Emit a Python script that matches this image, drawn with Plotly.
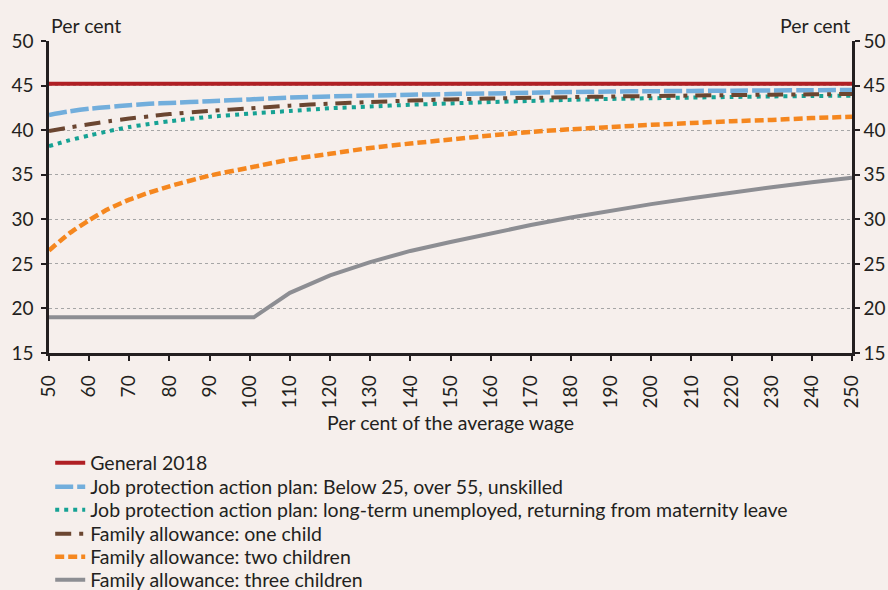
import plotly.graph_objects as go

# ---- data ----
x_wage = [50, 55, 60, 65, 70, 75, 80, 90, 100, 110, 120, 130, 140, 150,
          160, 170, 180, 190, 200, 210, 220, 230, 240, 250]

general_2018 = [45.2] * len(x_wage)

job_below25 = [41.7, 42.1, 42.4, 42.6, 42.8, 42.95, 43.05, 43.25, 43.45, 43.65,
               43.78, 43.88, 43.97, 44.05, 44.12, 44.2, 44.28, 44.33, 44.37,
               44.4, 44.43, 44.46, 44.48, 44.5]

job_longterm = [38.2, 38.85, 39.4, 39.9, 40.35, 40.7, 41.0, 41.5, 41.85, 42.15,
                42.45, 42.65, 42.85, 43.0, 43.15, 43.28, 43.4, 43.5, 43.58,
                43.65, 43.72, 43.78, 43.83, 43.87]

family_one = [39.9, 40.3, 40.65, 41.0, 41.3, 41.55, 41.8, 42.15, 42.45, 42.75,
              42.97, 43.15, 43.32, 43.45, 43.55, 43.62, 43.7, 43.77, 43.83,
              43.88, 43.93, 43.98, 44.02, 44.05]

family_two = [26.5, 28.4, 29.9, 31.2, 32.2, 33.0, 33.7, 34.9, 35.8, 36.7,
              37.35, 38.0, 38.5, 38.95, 39.4, 39.8, 40.1, 40.35, 40.6,
              40.8, 41.0, 41.15, 41.35, 41.5]

x_three = [50, 60, 70, 80, 90, 100, 101, 110, 120, 130, 140, 150, 160, 170,
           180, 190, 200, 210, 220, 230, 240, 250]
family_three = [19.0, 19.0, 19.0, 19.0, 19.0, 19.0, 19.0, 21.75, 23.7, 25.2,
                26.45, 27.45, 28.45, 29.35, 30.2, 31.0, 31.7, 32.35, 33.0,
                33.6, 34.15, 34.65]

x_ticks = list(range(50, 251, 10))
y_ticks = [15, 20, 25, 30, 35, 40, 45, 50]

BG = "#F6EFEC"
INK = "#231F20"
FONT = "Lato"
FS = 19.5

fig = go.Figure()

series = [
    ("General 2018", x_wage, general_2018, "#B01F24", "solid", 4, False),
    ("Job protection action plan: Below 25, over 55, unskilled", x_wage, job_below25, "#72AEDC", "18px,4px", 4.5, True),
    ("Job protection action plan: long-term unemployed, returning from maternity leave", x_wage, job_longterm, "#16A294", "4px,5px", 4, True),
    ("Family allowance: one child", x_wage, family_one, "#6B4631", "16px,8px,4px,8px", 4, True),
    ("Family allowance: two children", x_wage, family_two, "#F5871F", "9px,4px", 4.5, True),
    ("Family allowance: three children", x_three, family_three, "#8D8E93", "solid", 4, False),
]

# legend item centres (pixels from top of the 590 px image) -> paper coords
plot_top, plot_bottom = 41, 353
legend_centres_px = [463, 487, 510, 534, 557, 580]

legend_layout = {}
for i, (name, xs, ys, col, dash, w, smooth) in enumerate(series):
    line = dict(color=col, dash=dash, width=w)
    if smooth:
        line.update(shape="spline", smoothing=0.6)
    key = "legend" if i == 0 else f"legend{i + 1}"
    fig.add_trace(go.Scatter(x=xs, y=ys, name=name, mode="lines", line=line,
                             legend=key))
    ypaper = (plot_bottom - legend_centres_px[i]) / (plot_bottom - plot_top)
    legend_layout[key] = dict(x=0.0015, y=ypaper, xanchor="left", yanchor="middle",
                              bgcolor="rgba(0,0,0,0)", borderwidth=0,
                              font=dict(family=FONT, size=FS, color=INK),
                              itemwidth=30)

# invisible trace to activate right axis
fig.add_trace(go.Scatter(x=[50], y=[15], yaxis="y2", showlegend=False,
                         mode="markers", marker=dict(opacity=0), hoverinfo="skip"))

axis_common = dict(showline=True, linecolor=INK, linewidth=2.5, ticks="outside",
                   tickcolor=INK, tickwidth=2, ticklen=5,
                   tickfont=dict(family=FONT, size=19, color=INK))

fig.update_layout(
    width=888, height=590,
    paper_bgcolor=BG, plot_bgcolor=BG,
    margin=dict(l=49, r=36, t=41, b=237, autoexpand=False),
    font=dict(family=FONT, size=FS, color=INK),
    xaxis=dict(range=[50, 250], tickvals=x_ticks, ticktext=[str(v) for v in x_ticks],
               tickangle=-90, showgrid=False, zeroline=False, ticklabelstandoff=7,
               title=dict(text="Per cent of the average wage", standoff=9,
                          font=dict(family=FONT, size=FS, color=INK)),
               **axis_common),
    yaxis=dict(range=[15, 50], tickvals=y_ticks, showgrid=True, gridcolor="#A6A6A6",
               griddash="dot", gridwidth=1.2, zeroline=False, ticklabelstandoff=4,
               **axis_common),
    yaxis2=dict(range=[15, 50], tickvals=y_ticks, overlaying="y", side="right",
                showgrid=False, zeroline=False, ticklabelstandoff=0, **axis_common),
    showlegend=True,
    **legend_layout,
)

fig.add_annotation(text="Per cent", xref="paper", yref="paper", x=0, y=1,
                   xanchor="left", yanchor="bottom", yshift=2, showarrow=False,
                   font=dict(family=FONT, size=FS, color=INK))
fig.add_annotation(text="Per cent", xref="paper", yref="paper", x=1, y=1,
                   xanchor="right", yanchor="bottom", yshift=2, showarrow=False,
                   font=dict(family=FONT, size=FS, color=INK))

fig.write_html("out.html", config={"displayModeBar": False},
               post_script="document.body.style.margin='0';document.body.style.overflow='hidden';")
